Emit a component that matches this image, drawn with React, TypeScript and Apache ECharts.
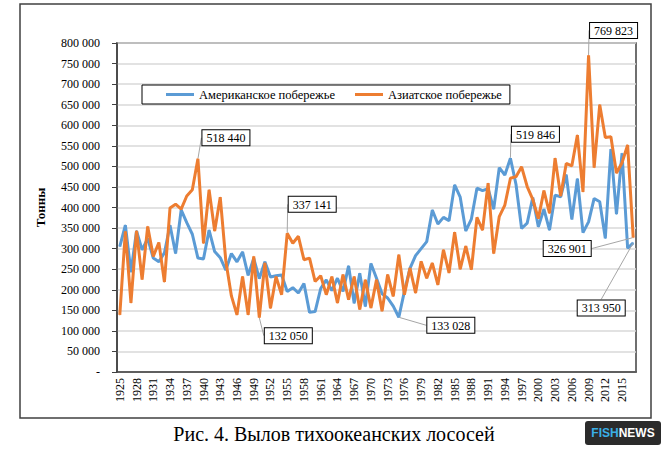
import React, { useEffect, useRef } from "react";
import * as echarts from "echarts";

// Годы 1925–2017
const firstYear = 1925;
const lastYear = 2017;
const years: string[] = [];
for (let y = firstYear; y <= lastYear; y++) years.push(String(y));

// Американское побережье, тонн
const america = [
  305000, 357000, 243000, 343000, 297000, 325000, 277000, 268000, 290000, 357000,
  288000, 394000, 363000, 335000, 277000, 275000, 345000, 293000, 278000, 248000,
  288000, 268000, 292000, 235000, 276000, 227000, 268000, 231000, 234000, 236000,
  196000, 205000, 192000, 215000, 145000, 147000, 203000, 224000, 198000, 228000,
  196000, 258000, 167000, 240000, 159000, 264000, 228000, 190000, 180000, 160000,
  133028, 196000, 252000, 283000, 300000, 317000, 394000, 360000, 376000, 368000,
  455000, 425000, 343000, 372000, 447000, 441000, 446000, 396000, 497000, 479000,
  519846, 456000, 349000, 362000, 424000, 353000, 396000, 345000, 430000, 426000,
  480000, 371000, 470000, 339000, 365000, 422000, 414000, 325000, 542000, 384000,
  532000, 301000, 313950,
];

// Азиатское побережье, тонн
const asia = [
  139000, 342000, 168000, 343000, 225000, 354000, 281000, 315000, 219000, 399000,
  408000, 396000, 428000, 443000, 518440, 313000, 443000, 343000, 425000, 270000,
  185000, 139000, 232000, 139000, 281000, 132050, 265000, 155000, 232000, 188000,
  337141, 313000, 330000, 273000, 277000, 220000, 234000, 188000, 232000, 168000,
  237000, 176000, 232000, 152000, 224000, 156000, 224000, 148000, 237000, 184000,
  285000, 188000, 253000, 192000, 269000, 228000, 265000, 212000, 297000, 241000,
  340000, 250000, 306000, 249000, 376000, 345000, 459000, 288000, 378000, 406000,
  471000, 475000, 499000, 451000, 420000, 373000, 441000, 386000, 520000, 428000,
  507000, 501000, 576000, 438000, 769823, 497000, 650000, 570000, 572000, 484000,
  509000, 552000, 326901,
];

// Выноски: индекс точки и сдвиг подписи
const americaCallouts: Record<number, [number, number]> = {
  50: [52, 21],
  70: [25, -11],
  92: [-32, 78],
};
const asiaCallouts: Record<number, [number, number]> = {
  14: [28, -8],
  25: [29, 31],
  30: [25, -16],
  84: [25, -12],
  92: [-66, 24],
};

const serif = "'Liberation Serif', 'Times New Roman', serif";
const fmt = (v: number) => String(v).replace(/\B(?=(\d{3})+(?!\d))/g, " ");

const calloutLabel = {
  show: true,
  position: "top",
  formatter: (p: any) => fmt(p.value),
  fontFamily: serif,
  fontSize: 12,
  color: "#000",
  backgroundColor: "#fff",
  borderColor: "#000",
  borderWidth: 1,
  padding: [2, 4, 1, 4],
};

const withCallouts = (values: number[], callouts: Record<number, [number, number]>) =>
  values.map((v, i) => (callouts[i] ? { value: v, label: calloutLabel } : v));

const App = () => {
  const chartRef = useRef<HTMLDivElement>(null);

  useEffect(() => {
    const myChart = echarts.init(chartRef.current!, null, { renderer: "svg" });
    const option = {
      animation: false,
      backgroundColor: "#fff",
      title: {
        text: "Рис. 4. Вылов тихоокеанских лососей",
        left: "center",
        top: 419,
        textStyle: { fontFamily: serif, fontSize: 20, fontWeight: "normal", color: "#000" },
      },
      legend: {
        left: 142,
        top: 85,
        padding: [3, 8, 3, 24],
        itemGap: 20,
        itemWidth: 28,
        itemHeight: 3,
        icon: "rect",
        borderColor: "#000",
        borderWidth: 1,
        backgroundColor: "#fff",
        textStyle: { fontFamily: serif, fontSize: 12.5, color: "#000" },
        data: ["Американское побережье", "Азиатское побережье"],
      },
      grid: {
        left: 117,
        right: 32,
        top: 43,
        bottom: 83,
        show: true,
        borderColor: "#404040",
        borderWidth: 1.5,
      },
      xAxis: {
        type: "category",
        data: years,
        boundaryGap: true,
        axisLine: { lineStyle: { color: "#404040", width: 1.5 } },
        axisTick: { interval: 0, length: 3, lineStyle: { color: "#404040" } },
        axisLabel: {
          interval: 2,
          rotate: 90,
          margin: 6,
          fontFamily: serif,
          fontSize: 12,
          color: "#000",
        },
        splitLine: { show: false },
      },
      yAxis: {
        type: "value",
        min: 0,
        max: 800000,
        interval: 50000,
        name: "Тонны",
        nameLocation: "middle",
        nameGap: 70,
        nameRotate: 90,
        nameTextStyle: { fontFamily: serif, fontSize: 13, fontWeight: "bold", color: "#000" },
        axisLine: { show: true, lineStyle: { color: "#404040", width: 1.5 } },
        axisTick: { show: true, length: 5, lineStyle: { color: "#404040" } },
        axisLabel: {
          margin: 17,
          fontFamily: serif,
          fontSize: 12,
          color: "#000",
          formatter: (v: number) => (v === 0 ? "-" : fmt(v)),
        },
        splitLine: { lineStyle: { color: "#d9d9d9", width: 1.5 } },
      },
      graphic: [
        {
          type: "rect",
          silent: true,
          shape: { x: 20, y: 4, width: 631, height: 414 },
          style: { fill: "none", stroke: "#404040", lineWidth: 1.5 },
        },
        {
          type: "group",
          left: 585,
          top: 421,
          children: [
            {
              type: "rect",
              shape: { x: 0, y: 0, width: 76, height: 24, r: 3 },
              style: { fill: "#2b2b2b" },
            },
            {
              type: "text",
              x: 38,
              y: 12,
              style: {
                text: "{a|FISH}{b|NEWS}",
                align: "center",
                verticalAlign: "middle",
                rich: {
                  a: { fill: "#3aafe6", fontFamily: "Liberation Sans, Arial", fontSize: 12, fontWeight: "bold" },
                  b: { fill: "#fff", fontFamily: "Liberation Sans, Arial", fontSize: 12, fontWeight: "bold" },
                },
              },
            },
          ],
        },
      ],
      series: [
        {
          name: "Американское побережье",
          type: "line",
          data: withCallouts(america, americaCallouts),
          symbol: "circle",
          symbolSize: 1,
          showSymbol: true,
          showAllSymbol: true,
          itemStyle: { color: "#5b9bd5" },
          lineStyle: { color: "#5b9bd5", width: 3 },
          labelLine: { show: true, lineStyle: { color: "#a6a6a6", width: 1 } },
          labelLayout: (p: any) => {
            const c = americaCallouts[p.dataIndex];
            return c ? { dx: c[0], dy: c[1], hideOverlap: false } : {};
          },
          z: 2,
        },
        {
          name: "Азиатское побережье",
          type: "line",
          data: withCallouts(asia, asiaCallouts),
          symbol: "circle",
          symbolSize: 1,
          showSymbol: true,
          showAllSymbol: true,
          itemStyle: { color: "#ed7d31" },
          lineStyle: { color: "#ed7d31", width: 3 },
          labelLine: { show: true, lineStyle: { color: "#a6a6a6", width: 1 } },
          labelLayout: (p: any) => {
            const c = asiaCallouts[p.dataIndex];
            return c ? { dx: c[0], dy: c[1], hideOverlap: false } : {};
          },
          z: 3,
        },
      ],
    };
    myChart.setOption(option);
    return () => {
      myChart.dispose();
    };
  }, []);

  return (
    <div
      ref={chartRef}
      style={{ position: "fixed", left: 0, top: 0, width: 668, height: 455 }}
    ></div>
  );
};

export default App;
